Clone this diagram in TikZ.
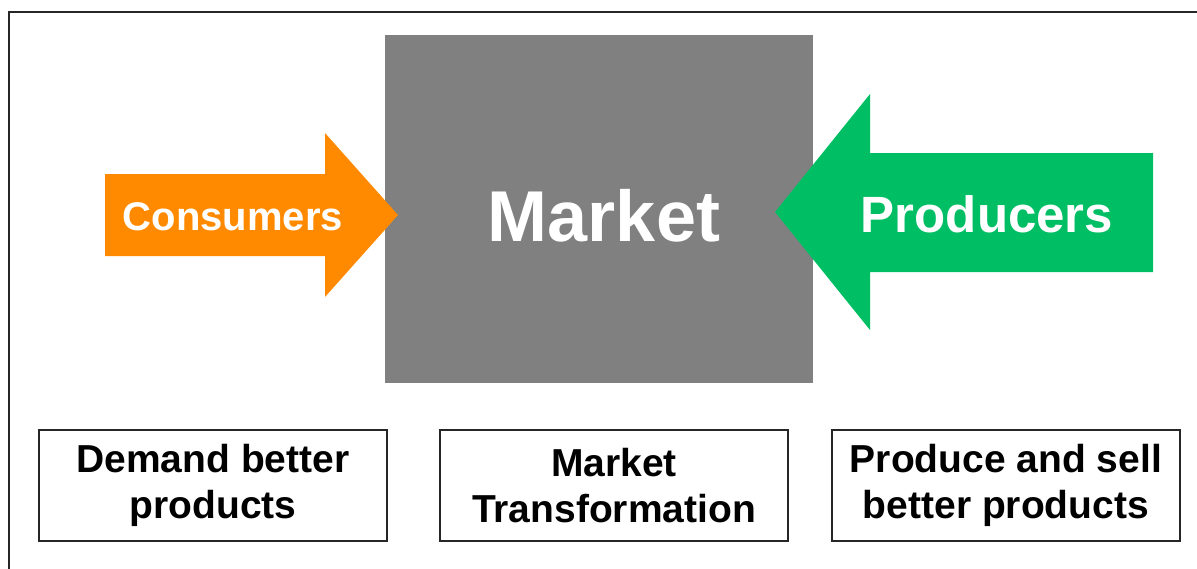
\documentclass[tikz,border=0pt]{standalone}
\usepackage{fontspec}
\setmainfont{Liberation Sans}
\definecolor{arrorange}{RGB}{255,138,0}
\definecolor{arrgreen}{RGB}{0,190,100}
\definecolor{mktgray}{RGB}{128,128,128}
\tikzset{
  labelbox/.style={draw=black!85, line width=2.5pt, minimum width=348pt, minimum height=111pt,
    align=center, inner sep=0pt, font=\bfseries\fontsize{39}{46}\selectfont, text=black},
  arrowtext/.style={text=white, font=\bfseries, inner sep=0pt, anchor=base},
}
\begin{document}
\begin{tikzpicture}[x=1pt,y=-1pt]
\useasboundingbox (0,0) rectangle (1197,568);
% outer frame (partly outside the picture)
\draw[line width=2pt, black!85] (9,575) -- (9,12) -- (1205,12);
% market block
\fill[mktgray] (385,35) rectangle (813,383);
\node[arrowtext, font=\bfseries\fontsize{72}{72}\selectfont] (market) at (604,241) {Market};
% consumers arrow
\fill[arrorange] (105,174) -- (325,174) -- (325,133) -- (398,215) -- (325,297) -- (325,256) -- (105,256) -- cycle;
\node[arrowtext, font=\bfseries\fontsize{40}{40}\selectfont] (cons) at (233,230) {Consumers};
% producers arrow
\fill[arrgreen] (1153,153) -- (870,153) -- (870,94) -- (775,212) -- (870,330) -- (870,272) -- (1153,272) -- cycle;
\node[arrowtext, font=\bfseries\fontsize{51}{51}\selectfont] (prod) at (987,232) {Producers};
% bottom boxes
\node[labelbox] (demand) at (213,485.5) {Demand better\\products};
\node[labelbox] (transf) at (614,485.5) {Market\\Transformation};
\node[labelbox] (sell) at (1006,485.5) {Produce and sell\\better products};
\end{tikzpicture}
\end{document}
